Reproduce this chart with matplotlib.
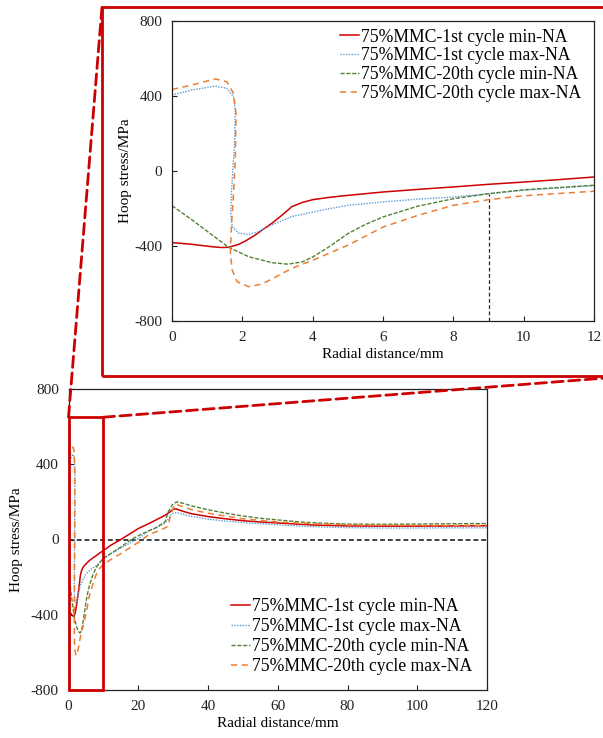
import matplotlib
matplotlib.use("Agg")
import matplotlib.pyplot as plt
from matplotlib.patches import Rectangle, ConnectionPatch

plt.rcParams['font.family'] = ['Liberation Serif', 'DejaVu Serif']
plt.rcParams['axes.unicode_minus'] = False

# ---- data (radial distance mm, hoop stress MPa) ----
labels = ["75%MMC-1st cycle min-NA", "75%MMC-1st cycle max-NA",
          "75%MMC-20th cycle min-NA", "75%MMC-20th cycle max-NA"]

min1_x = [0, 0.57, 1.14, 1.4, 1.61, 1.9, 2.1, 2.37, 2.6, 2.84, 3.1, 3.41, 3.7, 4.0, 4.5, 5, 6, 7, 8, 9,
          10, 11, 12, 15, 20, 23.4, 25, 27.7, 29, 30, 30.8, 32, 35, 40, 45, 50, 55, 60, 70, 80, 90, 100, 110, 120]
min1_y = [-382, -391, -404, -408, -407, -391, -372, -341, -310, -279, -240, -190, -168, -153, -140, -130, -112, -98, -85, -71,
          -59, -46, -32, 0, 58, 88, 103, 129, 145, 161, 163, 155, 138, 122, 110, 100, 93, 88, 77, 72, 71, 71, 72, 73]

max1_x = [0, 0.57, 1.23, 1.56, 1.75, 1.8, 1.79, 1.78, 1.73, 1.69, 1.67, 1.71, 1.9, 2.18, 2.46, 2.84, 3.41, 4.0, 4.5,
          5, 6, 7, 8, 9, 10, 12, 15, 20, 23.4, 25, 27.7, 28.7, 29.6, 31, 35, 40, 45, 50, 55, 60, 70, 80, 90, 100, 110, 120]
max1_y = [405, 432, 453, 441, 396, 325, 240, 148, 5, -119, -226, -297, -332, -338, -324, -288, -243, -219, -200,
          -183, -165, -150, -139, -121, -103, -78, -45, 5, 50, 60, 88, 110, 138, 143, 124, 108, 98, 90, 84, 78, 68, 63, 61, 61, 62, 62]

min20_x = [0, 0.57, 1.14, 1.61, 2.18, 2.84, 3.3, 3.7, 4.0, 4.5, 5, 5.5, 6, 7, 8, 9, 10, 12, 15, 18, 20, 23.4, 25,
           27.7, 28.6, 29.8, 31, 33, 35, 40, 45, 50, 55, 60, 66, 70, 80, 90, 100, 110, 120]
min20_y = [-185, -261, -341, -407, -457, -489, -497, -485, -459, -400, -334, -285, -245, -187, -148, -121, -100, -76, -40, 0, 20, 50, 62,
           94, 147, 185, 200, 192, 180, 158, 140, 125, 113, 104, 94, 89, 82, 81, 82, 84, 85]

max20_x = [0, 0.57, 1.23, 1.56, 1.75, 1.82, 1.81, 1.8, 1.75, 1.69, 1.66, 1.71, 1.85, 2.18, 2.56, 3.0, 3.41, 4.0, 5, 6,
           7, 8, 9, 10, 12, 15, 20, 23, 27, 28.5, 29.3, 30.5, 32, 35, 40, 45, 50, 60, 70, 80, 90, 100, 110, 120]
max20_y = [435, 459, 491, 476, 414, 308, 180, 59, -119, -297, -439, -528, -590, -617, -603, -560, -519, -476, -396, -299,
           -236, -183, -153, -132, -108, -75, -15, 25, 55, 70, 130, 188, 180, 160, 140, 125, 110, 93, 84, 78, 76, 75, 75, 76]

series_x = [min1_x, max1_x, min20_x, max20_x]
series_y = [min1_y, max1_y, min20_y, max20_y]
colors = ['#D00000', '#5B9BD5', '#548235', '#ED7D31']
styles = [dict(linestyle='-', linewidth=1.1),
          dict(linestyle=(0, (1, 1)), linewidth=1.0),
          dict(linestyle=(0, (3, 1.2)), linewidth=1.0),
          dict(linestyle=(0, (4, 3)), linewidth=1.1)]

main_xticks = [0, 20, 40, 60, 80, 100, 120]
inset_xticks = [0, 2, 4, 6, 8, 10, 12]
yticks = [-800, -400, 0, 400, 800]
zoom_box = (0, 10, -800, 650)   # x0, x1, y0, y1 in main-axes data
cut_x = 9
cut_y = -121

W, H = 603, 738
fig = plt.figure(figsize=(W / 100, H / 100), dpi=100)


def style_axes(ax, xticks, xlim, ylabelpad):
    ax.set_xlim(xlim)
    ax.set_ylim(-800, 800)
    ax.set_xticks(xticks)
    ax.set_yticks(yticks)
    ax.tick_params(direction='in', length=3.5, width=0.8, labelsize=11, pad=7, colors='#222222')
    for s in ax.spines.values():
        s.set_linewidth(0.9)
        s.set_color('#222222')
    ax.set_xlabel("Radial distance/mm", fontsize=11, labelpad=3)
    ax.set_ylabel("Hoop stress/MPa", fontsize=11, labelpad=ylabelpad)


def add_curves(ax):
    for x, y, c, st, lab in zip(series_x, series_y, colors, styles, labels):
        ax.plot(x, y, color=c, label=lab, **st)


leg_kw = dict(frameon=False, fontsize=12.7, handlelength=1.1, handletextpad=0.1,
              borderpad=0, borderaxespad=0, loc='upper left')

# ---- main axes ----
ax = fig.add_axes([68.5 / W, 1 - 690 / H, (487 - 68.5) / W, (690 - 389) / H])
style_axes(ax, main_xticks, (0, 120), 5.5)
ax.axhline(0, color='#404040', linestyle=(0, (2.5, 1.5)), linewidth=1.4, zorder=1)
add_curves(ax)
ax.legend(bbox_to_anchor=(0.388, 0.306), labelspacing=0.17, **leg_kw)
x0, x1, y0, y1 = zoom_box
ax.add_patch(Rectangle((x0, y0), x1 - x0, y1 - y0, fill=False, edgecolor='#CC0000',
                       linewidth=2.0, zorder=5, clip_on=False))

# ---- inset axes ----
axi = fig.add_axes([172 / W, 1 - 321 / H, (594 - 172) / W, (321 - 21) / H])
style_axes(axi, inset_xticks, (0, 12), 2)
add_curves(axi)
axi.plot([cut_x, cut_x], [-800, cut_y], color='#222222', linestyle=(0, (3, 2)), linewidth=0.9, zorder=1)
axi.legend(bbox_to_anchor=(0.398, 0.975), labelspacing=0.1, **leg_kw)

# red frame round the inset (runs past the right edge)
fl, fb, ft = 102 / W, 1 - 376 / H, 1 - 7 / H
fig.add_artist(Rectangle((fl, fb), 1.05 - fl, ft - fb, transform=fig.transFigure,
                         fill=False, edgecolor='#CC0000', linewidth=2.0, zorder=10))

# dashed connectors from zoom box to frame
for pa, pb in [((x0, y1), (fl, ft)), ((x1, y1), (1.0, fb - 0.003))]:
    con = ConnectionPatch(xyA=pa, coordsA=ax.transData, xyB=pb, coordsB=fig.transFigure,
                          color='#CC0000', linestyle=(0, (4, 2)), linewidth=2.0, zorder=10)
    fig.add_artist(con)

fig.savefig("out.png", dpi=100)
